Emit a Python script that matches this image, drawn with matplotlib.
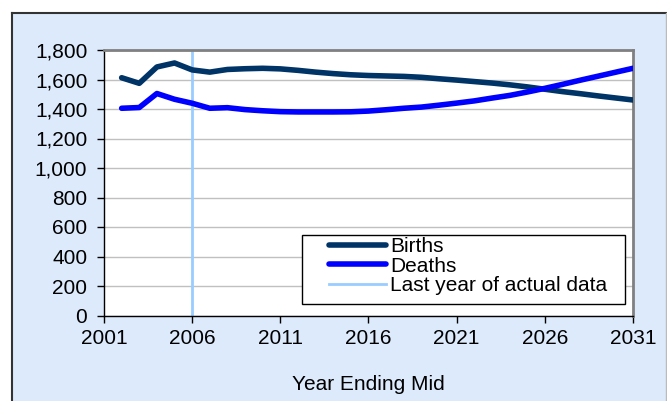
import matplotlib
matplotlib.use("Agg")
import matplotlib.pyplot as plt
from matplotlib.patches import Rectangle
from matplotlib.lines import Line2D

plt.rcParams['font.family'] = ['Liberation Sans', 'DejaVu Sans']

years = list(range(2002, 2032))
births = [1612, 1574, 1685, 1712, 1665, 1650, 1668, 1673, 1676, 1672,
          1662, 1650, 1640, 1632, 1627, 1624, 1621, 1615, 1605, 1596,
          1586, 1576, 1564, 1550, 1534, 1518, 1504, 1489, 1475, 1461]
deaths = [1405, 1410, 1505, 1466, 1439, 1405, 1409, 1396, 1388, 1382,
          1380, 1380, 1380, 1381, 1386, 1395, 1405, 1413, 1426, 1440,
          1455, 1474, 1492, 1515, 1540, 1567, 1595, 1622, 1649, 1676]
last_actual_year = 2006
x_ticks = [2001, 2006, 2011, 2016, 2021, 2026, 2031]
y_ticks = list(range(0, 1801, 200))
x_label = "Year Ending Mid"
labels = ["Births", "Deaths", "Last year of actual data"]

FS = 15
W, H = 667, 401
fig = plt.figure(figsize=(W / 100, H / 100), dpi=100)
fig.patch.set_facecolor('white')

# outer chart area
bg = Rectangle((12 / W, 0), (666 - 12) / W, (H - 13) / H, transform=fig.transFigure,
               facecolor='#DCEAFC', edgecolor='none', zorder=-5)
fig.add_artist(bg)
fig.add_artist(Line2D([12 / W, 12 / W], [0, (H - 13) / H], color='#333333', lw=1.5,
                      transform=fig.transFigure, zorder=-4))
fig.add_artist(Line2D([12 / W, 666 / W], [(H - 13) / H, (H - 13) / H], color='#333333', lw=1.5,
                      transform=fig.transFigure, zorder=-4))
fig.add_artist(Line2D([666 / W, 666 / W], [0, (H - 13) / H], color='#BBBBBB', lw=1,
                      transform=fig.transFigure, zorder=-4))

ax = fig.add_axes([104 / W, 1 - 315.5 / H, (633 - 104) / W, (315.5 - 50) / H])
ax.set_zorder(2)
ax.set_facecolor('white')

ax.plot(years, births, color='#003366', lw=4, solid_capstyle='round', solid_joinstyle='round',
        label=labels[0], zorder=3)
ax.plot(years, deaths, color='#0000FF', lw=4, solid_capstyle='round', solid_joinstyle='round',
        label=labels[1], zorder=3)
ax.axvline(last_actual_year, color='#99CCFF', lw=2, label=labels[2], zorder=2)

ax.set_xlim(2001, 2031)
ax.set_ylim(0, 1800)
ax.set_xticks(x_ticks)
ax.set_yticks(y_ticks)
ax.set_yticklabels([f"{v:,}" for v in y_ticks])
ax.yaxis.grid(True, color='#C0C0C0', lw=1)
ax.set_axisbelow(True)

for s in ['top', 'right']:
    ax.spines[s].set_color('#808080')
    ax.spines[s].set_linewidth(2)
for s in ['left', 'bottom']:
    ax.spines[s].set_color('black')
    ax.spines[s].set_linewidth(1)

ax.tick_params(axis='both', direction='out', length=5, width=1, color='black',
               labelsize=FS, labelcolor='black')
ax.tick_params(axis='x', pad=5)
ax.tick_params(axis='y', pad=7)

ax.set_xlabel(x_label, fontsize=FS, labelpad=19)

# legend box (drawn as in the original, wider than its contents)
box = Rectangle((0.3737, 0.0433), 0.611, 0.26, transform=ax.transAxes,
                facecolor='white', edgecolor='black', lw=1, zorder=4)
ax.add_patch(box)
leg = ax.legend(loc='upper left', bbox_to_anchor=(0.4253, 0.296),
                fontsize=FS, frameon=False, handlelength=2.75, handletextpad=0.2,
                labelspacing=0.03, borderpad=0, borderaxespad=0)
leg.set_zorder(5)

fig.savefig('out.png', dpi=100, facecolor=fig.get_facecolor())
